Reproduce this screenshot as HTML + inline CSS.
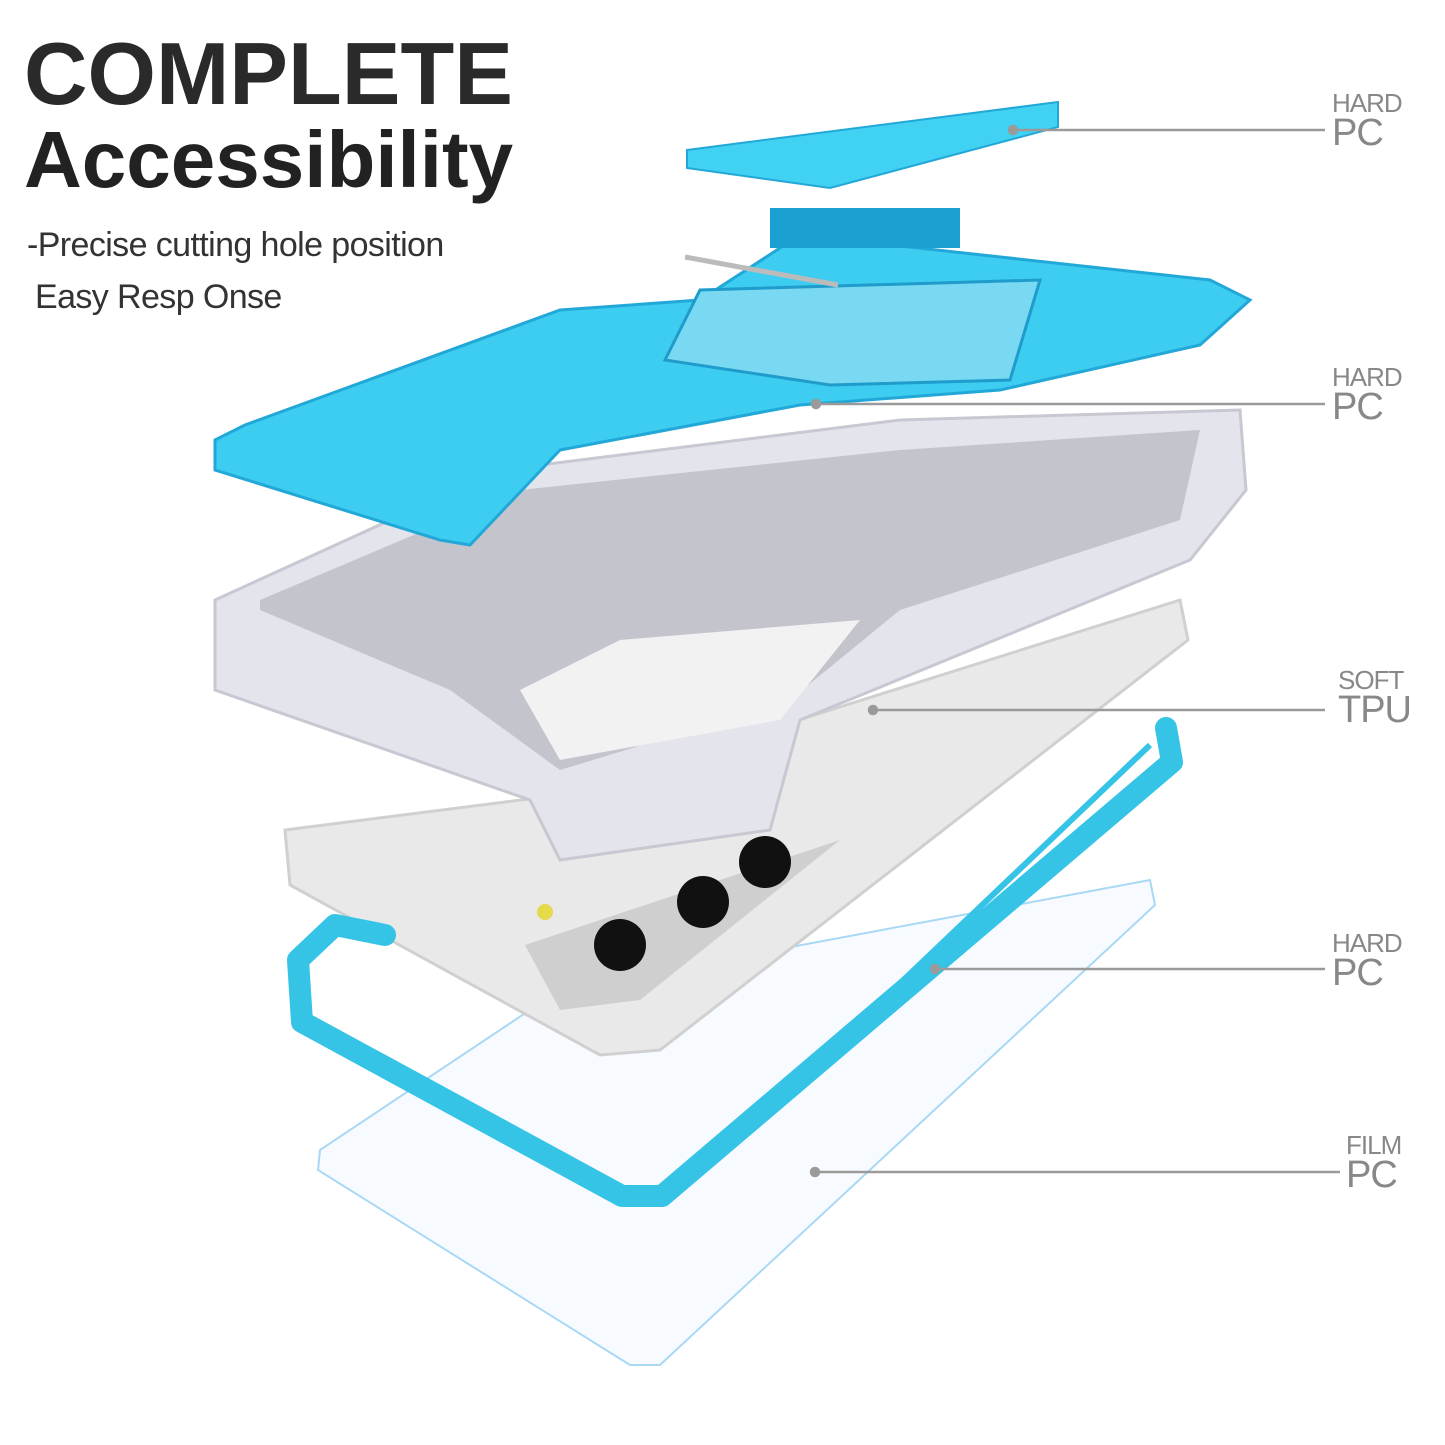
<!DOCTYPE html>
<html><head><meta charset="utf-8"><style>
html,body{margin:0;padding:0;background:#fff}
#c{position:relative;width:1445px;height:1445px;overflow:hidden;font-family:"Liberation Sans",sans-serif}
.t1{position:absolute;left:24px;top:30px;font-size:88px;font-weight:bold;color:#2a2a2a;letter-spacing:0px;line-height:1}
.t2{position:absolute;left:24px;top:120px;font-size:80px;font-weight:bold;color:#222;letter-spacing:0px;line-height:1}
.s{position:absolute;font-size:34px;color:#333;letter-spacing:-0.6px;line-height:1}
.lb{position:absolute;color:#888;line-height:1}
.lb .a{font-size:26px;letter-spacing:-1px}
.lb .b{font-size:38px;letter-spacing:-1px;margin-top:-2px}
</style></head><body><div id="c">
<svg width="1445" height="1445" style="position:absolute;left:0;top:0">
<!-- film -->
<polygon points="320,1150 560,990 1150,880 1155,905 660,1365 630,1365 318,1170" fill="#f7fbff" stroke="#a9d8f5" stroke-width="2"/>
<!-- phone -->
<polygon points="285,830 560,795 1180,600 1188,640 660,1050 600,1055 290,885" fill="#e9e9e9" stroke="#d0d0d0" stroke-width="3"/>
<polygon points="525,945 840,840 640,1000 560,1010" fill="#cfcfcf"/>
<circle cx="620" cy="945" r="26" fill="#111"/><circle cx="703" cy="902" r="26" fill="#111"/><circle cx="765" cy="862" r="26" fill="#111"/>
<circle cx="545" cy="912" r="8" fill="#e6d94a"/>
<!-- bumper -->
<path d="M385,935 L335,925 L298,960 L302,1022 L622,1196 L662,1196 L1172,762 L1166,728" fill="none" stroke="#35c3e6" stroke-width="22" stroke-linejoin="round" stroke-linecap="round"/>
<path d="M1150,745 L830,1050" stroke="#35c3e6" stroke-width="6" fill="none"/>
<!-- frame -->
<polygon points="215,600 500,470 900,420 1240,410 1246,490 1190,560 800,720 770,830 560,860 530,800 215,690" fill="#e4e4ec" stroke="#c8c8d2" stroke-width="3"/>
<polygon points="260,600 520,490 900,450 1200,430 1180,520 900,610 790,700 560,770 450,690 260,610" fill="#c4c4cc"/>
<polygon points="520,690 620,640 860,620 780,720 560,760" fill="#f2f2f2"/>
<!-- back plate -->
<polygon points="215,440 245,425 560,310 700,300 800,235 1210,280 1250,300 1200,345 1000,390 800,405 560,450 470,545 440,540 215,470" fill="#3ccdf0" stroke="#22a8d8" stroke-width="3"/>
<polygon points="665,360 700,290 1040,280 1010,380 830,385" fill="#7ad9f2" stroke="#1f9ccc" stroke-width="3"/>
<rect x="770" y="208" width="190" height="40" fill="#1a9fd0"/>
<line x1="685" y1="257" x2="838" y2="285" stroke="#bbb" stroke-width="5"/>
<!-- top plate -->
<polygon points="687,150 1058,102 1058,127 830,188 687,168" fill="#41d1f2" stroke="#22a8d8" stroke-width="2"/>
<!-- leader lines -->
<g stroke="#9a9a9a" stroke-width="2.5" fill="#9a9a9a">
<line x1="1013" y1="130" x2="1325" y2="130"/><circle cx="1013" cy="130" r="4"/>
<line x1="816" y1="404" x2="1325" y2="404"/><circle cx="816" cy="404" r="4"/>
<line x1="873" y1="710" x2="1325" y2="710"/><circle cx="873" cy="710" r="4"/>
<line x1="935" y1="969" x2="1325" y2="969"/><circle cx="935" cy="969" r="4"/>
<line x1="815" y1="1172" x2="1340" y2="1172"/><circle cx="815" cy="1172" r="4"/>
</g>
</svg>
<div class="t1">COMPLETE</div>
<div class="t2">Accessibility</div>
<div class="s" style="left:27px;top:228px">-Precise cutting hole position</div>
<div class="s" style="left:35px;top:280px">Easy Resp Onse</div>
<div class="lb" style="left:1332px;top:90px"><div class="a">HARD</div><div class="b">PC</div></div>
<div class="lb" style="left:1332px;top:364px"><div class="a">HARD</div><div class="b">PC</div></div>
<div class="lb" style="left:1338px;top:667px"><div class="a">SOFT</div><div class="b">TPU</div></div>
<div class="lb" style="left:1332px;top:930px"><div class="a">HARD</div><div class="b">PC</div></div>
<div class="lb" style="left:1346px;top:1132px"><div class="a">FILM</div><div class="b">PC</div></div>
</div></body></html>
